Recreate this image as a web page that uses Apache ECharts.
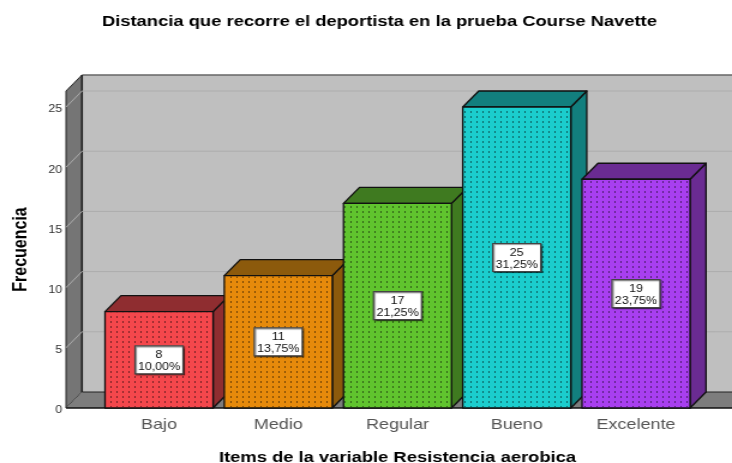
<!DOCTYPE html>
<html>
<head>
<meta charset="utf-8">
<style>
  html, body { margin: 0; padding: 0; background: #fff; overflow: hidden; }
  /* el grafico original esta estirado en horizontal */
  #main { width: 610px; height: 463px; transform: scaleX(1.2); transform-origin: 0 0; }
</style>
<script src="https://cdn.jsdelivr.net/npm/echarts@6/dist/echarts.min.js"></script>
</head>
<body>
<div id="main"></div>
<script>
  const categories = ['Bajo', 'Medio', 'Regular', 'Bueno', 'Excelente']
  const frecuencia = [8, 11, 17, 25, 19]
  const porcentajes = ['10,00%', '13,75%', '21,25%', '31,25%', '23,75%']
  const y_ticks = [0, 5, 10, 15, 20, 25]

  const front_colors = ['#f4474c', '#e68a0b', '#60c42e', '#1bcdcd', '#a83ff0']
  const side_colors = ['#8f2d30', '#8c5a0c', '#3f7a20', '#127f7e', '#6a2b92']
  const font = '"Liberation Sans", Arial, sans-serif'
  const depth_x = 13.33
  const depth_y = 16
  const overhang_left = 27.83
  const chart_width = 610

  // puntos de las barras
  function dotPattern() {
    const c = document.createElement('canvas')
    c.width = 5
    c.height = 5
    const ctx = c.getContext('2d')
    ctx.fillStyle = 'rgba(0,0,0,0.5)'
    ctx.fillRect(2, 1, 1, 2)
    return { image: c, repeat: 'repeat' }
  }
  const dots = dotPattern()

  function renderWalls(params, api) {
    const r = params.coordSys
    const left = r.x - overhang_left
    const right = chart_width
    const bottom = r.y + r.height
    return {
      type: 'group',
      children: [
        { type: 'rect', shape: { x: left + depth_x, y: r.y - depth_y, width: right - left - depth_x, height: r.height }, style: { fill: '#bfbfbf' } },
        { type: 'polygon', shape: { points: [[left, r.y], [left + depth_x, r.y - depth_y], [left + depth_x, bottom - depth_y], [left, bottom]] }, style: { fill: '#757575', stroke: '#222', lineWidth: 1 } },
        { type: 'polygon', shape: { points: [[left, bottom], [left + depth_x, bottom - depth_y], [right, bottom - depth_y], [right, bottom]] }, style: { fill: '#7d7d7d' } },
        { type: 'line', shape: { x1: left + depth_x, y1: r.y - depth_y, x2: right, y2: r.y - depth_y }, style: { stroke: '#666', lineWidth: 1.5 } },
        { type: 'line', shape: { x1: left + depth_x, y1: r.y - depth_y, x2: left + depth_x, y2: bottom - depth_y }, style: { stroke: '#222', lineWidth: 1.5 } },
        { type: 'line', shape: { x1: left + depth_x, y1: bottom - depth_y, x2: right, y2: bottom - depth_y }, style: { stroke: '#222', lineWidth: 1 } },
        { type: 'line', shape: { x1: left, y1: bottom, x2: right, y2: bottom }, style: { stroke: '#111', lineWidth: 1.5 } }
      ]
    }
  }

  function renderGridLine(params, api) {
    const r = params.coordSys
    const y = api.coord([0, api.value(0)])[1]
    const left = r.x - overhang_left
    if (api.value(0) === 0) {
      return null
    }
    return {
      type: 'polyline',
      shape: { points: [[left, y], [left + depth_x, y - depth_y], [chart_width, y - depth_y]] },
      style: { fill: 'none', stroke: '#adadad', lineWidth: 1 }
    }
  }

  function renderBar(params, api) {
    const i = params.dataIndex
    const p0 = api.coord([api.value(0), 0])
    const p1 = api.coord([api.value(0), api.value(1)])
    const w = api.size([1, 0])[0] * 0.906
    const x0 = p0[0] - w / 2
    const x1 = p0[0] + w / 2
    const top = p1[1]
    const bottom = p0[1]
    const line = { stroke: '#111', lineWidth: 1.3, lineJoin: 'round' }
    const mid = (top + bottom) / 2
    return {
      type: 'group',
      children: [
        { type: 'polygon', shape: { points: [[x1, top], [x1 + depth_x, top - depth_y], [x1 + depth_x, bottom - depth_y], [x1, bottom]] }, style: Object.assign({ fill: side_colors[i] }, line) },
        { type: 'polygon', shape: { points: [[x0, top], [x0 + depth_x, top - depth_y], [x1 + depth_x, top - depth_y], [x1, top]] }, style: Object.assign({ fill: side_colors[i] }, line) },
        { type: 'rect', shape: { x: x0, y: top, width: w, height: bottom - top }, style: Object.assign({ fill: front_colors[i] }, line) },
        { type: 'rect', shape: { x: x0 + 1, y: top + 1, width: w - 2, height: bottom - top - 2 }, style: { fill: dots } },
        { type: 'rect', shape: { x: p0[0] - 20, y: mid - 14, width: 40, height: 28 }, style: { fill: '#fff', stroke: '#444', lineWidth: 1.2, shadowColor: 'rgba(0,0,0,0.45)', shadowOffsetX: 1, shadowOffsetY: 1, shadowBlur: 1 } },
        { type: 'text', x: p0[0], y: mid + 1.5, style: { text: frecuencia[i] + '\n' + porcentajes[i], font: '10.4px ' + font, lineHeight: 11.5, fill: '#111', align: 'center', verticalAlign: 'middle' } }
      ]
    }
  }

  const chart = echarts.init(document.getElementById('main'), null, { renderer: 'canvas' })
  chart.setOption({
    animation: false,
    backgroundColor: '#fff',
    textStyle: { fontFamily: font },
    title: {
      text: 'Distancia que recorre el deportista en la prueba Course Navette',
      left: 311.2,
      top: 9,
      textAlign: 'center',
      textStyle: { fontFamily: font, fontSize: 15.3, fontWeight: 'bold', color: '#000' }
    },
    grid: { left: 82.83, right: 30.33, top: 91, bottom: 55, outerBoundsMode: 'none' },
    xAxis: {
      type: 'category',
      data: categories,
      name: 'Items de la variable Resistencia aerobica',
      nameLocation: 'middle',
      nameGap: 42,
      nameTextStyle: { fontFamily: font, fontSize: 15.3, fontWeight: 'bold', color: '#000' },
      axisLine: { show: false },
      axisTick: { show: false },
      axisLabel: { fontSize: 15, color: '#555', margin: 9 }
    },
    yAxis: {
      type: 'value',
      min: 0,
      max: 26.33,
      interval: 5,
      name: 'Frecuencia',
      nameLocation: 'middle',
      nameGap: 57.5,
      nameTextStyle: { fontFamily: font, fontSize: 16, fontWeight: 'bold', color: '#000' },
      axisLine: { show: false },
      axisTick: { show: false },
      splitLine: { show: false },
      axisLabel: { fontSize: 10.5, color: '#333', margin: 31, showMaxLabel: false, verticalAlign: 'top', padding: [-3, 0, 0, 0] }
    },
    series: [
      { type: 'custom', renderItem: renderWalls, data: [[0, 0]], silent: true, z: 1 },
      { type: 'custom', renderItem: renderGridLine, data: y_ticks.map(v => [v]), encode: { y: 0 }, silent: true, z: 2 },
      { type: 'custom', renderItem: renderBar, data: categories.map((c, i) => [i, frecuencia[i]]), encode: { x: 0, y: 1 }, z: 3 }
    ]
  })
</script>
</body>
</html>
